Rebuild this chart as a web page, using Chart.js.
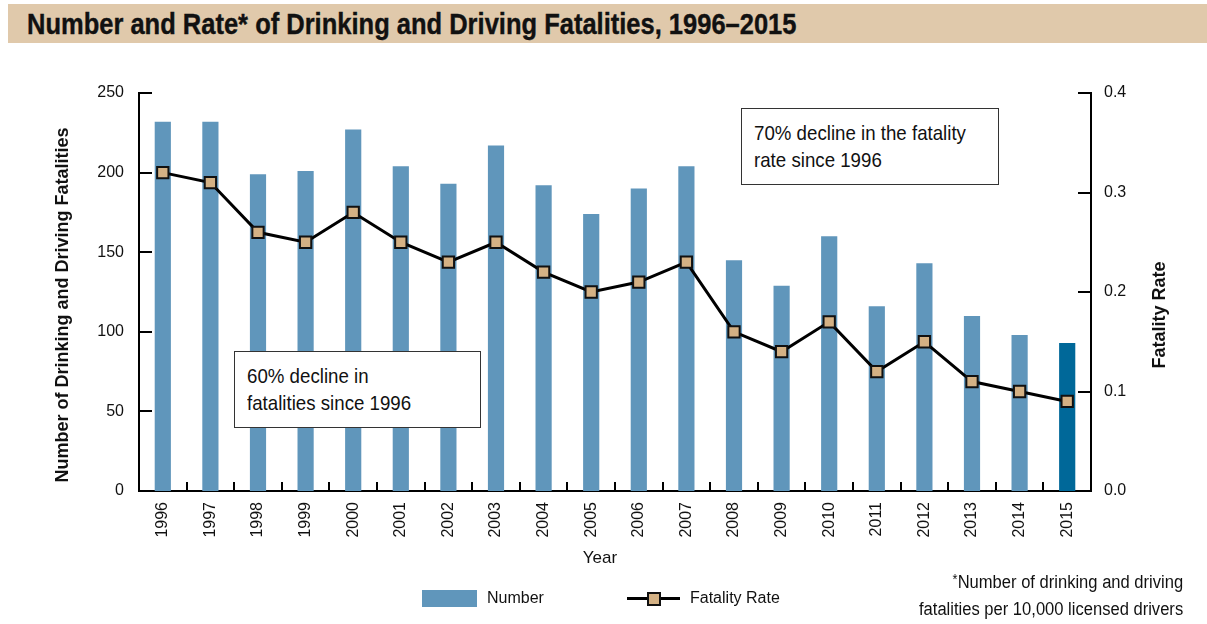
<!DOCTYPE html>
<html lang="en">
  <head>
    <meta charset="UTF-8" />
    <title>Number and Rate of Drinking and Driving Fatalities, 1996–2015</title>
    <script src="https://cdn.jsdelivr.net/npm/chart.js"></script>
    <style>
      body {
        margin: 0;
        background: #fff;
        font-family: "Liberation Sans", Arial, sans-serif;
        color: #111;
      }
      .page {
        position: relative;
        width: 1207px;
        height: 624px;
        overflow: hidden;
      }
      .title-band {
        position: absolute;
        left: 8px;
        top: 4px;
        width: 1199px;
        height: 39px;
        background: #e0c9ab;
      }
      .title-band h1 {
        position: absolute;
        left: 19px;
        top: 2px;
        margin: 0;
        font: bold 30px "Liberation Sans", Arial, sans-serif;
        line-height: 35px;
        white-space: nowrap;
        -webkit-text-stroke: 0.4px #111;
        transform: scaleX(0.85);
        transform-origin: left center;
      }
      .chart-box {
        position: absolute;
        left: 0;
        top: 0;
        width: 1207px;
        height: 624px;
      }
      /* no condensed face installed, so squeeze the regular one */
      .squeeze {
        display: inline-block;
        white-space: nowrap;
        transform: scaleX(0.89);
        transform-origin: left top;
      }
      .note {
        position: absolute;
        box-sizing: border-box;
        border: 1.5px solid #333;
        background: #fff;
        font-size: 21px;
        line-height: 27px;
        padding: 10px 0 0 12px;
      }
      .legend {
        position: absolute;
        top: 588px;
        font-size: 16px;
        line-height: 20px;
      }
      .swatch-bar {
        position: absolute;
        left: 422px;
        top: 590px;
        width: 55px;
        height: 17px;
        background: #6096bb;
      }
      .swatch-line {
        position: absolute;
        left: 627px;
        top: 597px;
        width: 53px;
        height: 3px;
        background: #000;
      }
      .swatch-dot {
        position: absolute;
        left: 647px;
        top: 592px;
        width: 10px;
        height: 10px;
        background: #d4b184;
        border: 2px solid #111;
      }
      .footnote {
        position: absolute;
        right: 24px;
        top: 566px;
        font-size: 18px;
        line-height: 27px;
        text-align: right;
        white-space: nowrap;
        transform: scaleX(0.92);
        transform-origin: right top;
      }
      .footnote sup {
        font-size: 14px;
        vertical-align: 4px;
      }
    </style>
  </head>
  <body>
    <div class="page">
      <div class="title-band">
        <h1>Number and Rate* of Drinking and Driving Fatalities, 1996–2015</h1>
      </div>

      <div class="chart-box">
        <canvas id="fatalChart"></canvas>
      </div>

      <!-- annotation boxes -->
      <div class="note" style="left: 234px; top: 351px; width: 247px; height: 77px">
        <span class="squeeze">60% decline in<br />fatalities since 1996</span>
      </div>
      <div class="note" style="left: 741px; top: 108px; width: 258px; height: 77px">
        <span class="squeeze">70% decline in the fatality<br />rate since 1996</span>
      </div>

      <!-- legend -->
      <div class="swatch-bar"></div>
      <div class="legend" style="left: 487px">Number</div>
      <div class="swatch-line"></div>
      <div class="swatch-dot"></div>
      <div class="legend" style="left: 690px">Fatality Rate</div>

      <div class="footnote">
        <sup>*</sup>Number of drinking and driving<br />fatalities per 10,000 licensed drivers
      </div>
    </div>

    <script>
      const years = [
        "1996", "1997", "1998", "1999", "2000", "2001", "2002", "2003", "2004", "2005",
        "2006", "2007", "2008", "2009", "2010", "2011", "2012", "2013", "2014", "2015",
      ];
      const fatalities = [
        232, 232, 199, 201, 227, 204, 193, 217, 192, 174,
        190, 204, 145, 129, 160, 116, 143, 110, 98, 93,
      ];
      const fatalityRate = [
        0.32, 0.31, 0.26, 0.25, 0.28, 0.25, 0.23, 0.25, 0.22, 0.2,
        0.21, 0.23, 0.16, 0.14, 0.17, 0.12, 0.15, 0.11, 0.1, 0.09,
      ];
      const numberTicks = [0, 50, 100, 150, 200, 250];
      const rateTicks = [0, 0.1, 0.2, 0.3, 0.4];

      const barBlue = "#6096bb";
      const barDark = "#006899";

      // tick marks point inward, plus the axis titles
      const axisExtras = {
        id: "axisExtras",
        afterDraw(chart) {
          const { ctx, chartArea: area } = chart;
          const x = chart.scales.x;
          const y = chart.scales.y;
          const y1 = chart.scales.y1;
          ctx.save();
          ctx.strokeStyle = "#000";
          ctx.lineWidth = 2;
          ctx.beginPath();
          y.ticks.forEach((t) => {
            const py = Math.round(y.getPixelForValue(t.value));
            ctx.moveTo(area.left, py);
            ctx.lineTo(area.left + 13, py);
          });
          y1.ticks.forEach((t) => {
            const py = Math.round(y1.getPixelForValue(t.value));
            ctx.moveTo(area.right - 13, py);
            ctx.lineTo(area.right, py);
          });
          for (let i = 0; i < years.length - 1; i++) {
            const px = Math.round((x.getPixelForValue(i) + x.getPixelForValue(i + 1)) / 2);
            ctx.moveTo(px, area.bottom);
            ctx.lineTo(px, area.bottom - 9);
          }
          ctx.stroke();

          ctx.fillStyle = "#111";
          ctx.textAlign = "center";
          ctx.textBaseline = "middle";
          ctx.font = 'bold 18px "Liberation Sans", Arial, sans-serif';
          ctx.save();
          ctx.translate(63, 305);
          ctx.rotate(-Math.PI / 2);
          ctx.fillText("Number of Drinking and Driving Fatalities", 0, 0);
          ctx.restore();
          ctx.save();
          ctx.translate(1160, 315);
          ctx.rotate(-Math.PI / 2);
          ctx.fillText("Fatality Rate", 0, 0);
          ctx.restore();
          ctx.font = '17px "Liberation Sans", Arial, sans-serif';
          ctx.fillText("Year", 600, 558);
          ctx.restore();
        },
      };

      const ctxFatal = document.getElementById("fatalChart").getContext("2d");
      new Chart(ctxFatal, {
        type: "bar",
        data: {
          labels: years,
          datasets: [
            {
              type: "line",
              label: "Fatality Rate",
              data: fatalityRate,
              yAxisID: "y1",
              borderColor: "#000",
              borderWidth: 3,
              tension: 0,
              pointStyle: "rect",
              pointRadius: 8,
              pointBackgroundColor: "#d4b184",
              pointBorderColor: "#111",
              pointBorderWidth: 2,
              order: 0,
            },
            {
              label: "Number",
              data: fatalities,
              yAxisID: "y",
              backgroundColor: years.map((yr, i) => (i === years.length - 1 ? barDark : barBlue)),
              categoryPercentage: 1,
              barPercentage: 0.34,
              order: 1,
            },
          ],
        },
        options: {
          responsive: true,
          maintainAspectRatio: false,
          animation: false,
          layout: { padding: { top: 93, left: 0, right: 0, bottom: 0 } },
          plugins: {
            legend: { display: false },
            tooltip: { enabled: false },
          },
          scales: {
            x: {
              offset: true,
              grid: { display: false, drawTicks: false },
              border: { display: true, color: "#000", width: 2 },
              ticks: {
                minRotation: 90,
                maxRotation: 90,
                padding: 11,
                color: "#111",
                font: { family: '"Liberation Sans", Arial, sans-serif', size: 16 },
              },
              afterFit(s) {
                s.height = 133;
              },
            },
            y: {
              position: "left",
              min: 0,
              max: 250,
              grid: { display: false, drawTicks: false },
              border: { display: true, color: "#000", width: 2 },
              afterBuildTicks(s) {
                s.ticks = numberTicks.map((v) => ({ value: v }));
              },
              ticks: {
                padding: 15,
                color: "#111",
                font: { family: '"Liberation Sans", Arial, sans-serif', size: 16 },
              },
              afterFit(s) {
                s.width = 139;
              },
            },
            y1: {
              position: "right",
              min: 0,
              max: 0.4,
              grid: { display: false, drawTicks: false },
              border: { display: true, color: "#000", width: 2 },
              afterBuildTicks(s) {
                s.ticks = rateTicks.map((v) => ({ value: v }));
              },
              ticks: {
                padding: 13,
                color: "#111",
                font: { family: '"Liberation Sans", Arial, sans-serif', size: 16 },
                callback: (v) => Number(v).toFixed(1),
              },
              afterFit(s) {
                s.width = 116;
              },
            },
          },
        },
        plugins: [axisExtras],
      });
    </script>
  </body>
</html>
